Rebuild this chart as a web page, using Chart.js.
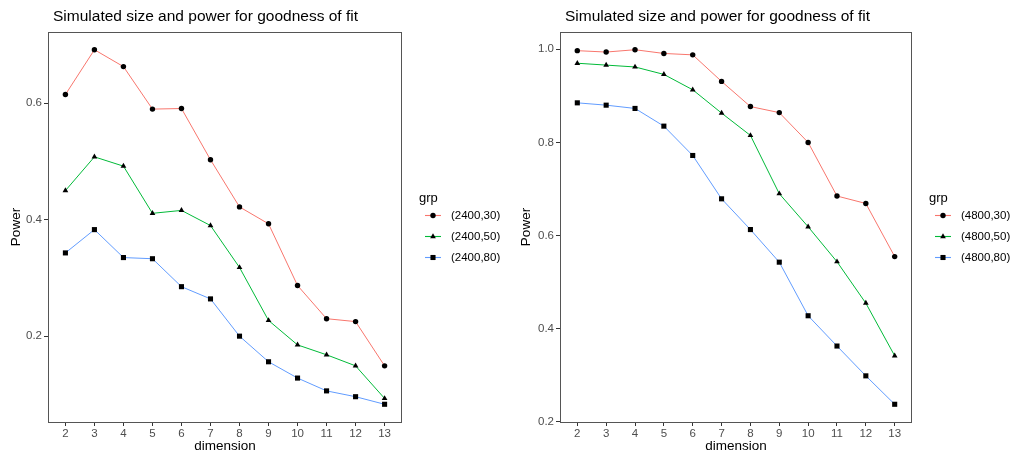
<!DOCTYPE html>
<html>
<head>
<meta charset="utf-8">
<script src="https://cdn.jsdelivr.net/npm/chart.js@4.4.1/dist/chart.umd.min.js"></script>
<style>
  html, body { margin: 0; padding: 0; background: #fff; }
  .row { display: flex; width: 1014px; height: 454px; }
  .panel { position: relative; width: 507px; height: 454px; }
</style>
</head>
<body>
<div class="row">
  <div class="panel"><canvas id="chartLeft" width="507" height="454"></canvas></div>
  <div class="panel"><canvas id="chartRight" width="507" height="454"></canvas></div>
</div>
<script>
// --- Data ---
const dims = [2, 3, 4, 5, 6, 7, 8, 9, 10, 11, 12, 13];

const groupsLeft = ['(2400,30)', '(2400,50)', '(2400,80)'];
const power2400_30 = [0.615, 0.692, 0.663, 0.590, 0.591, 0.503, 0.422, 0.393, 0.287, 0.230, 0.225, 0.149];
const power2400_50 = [0.450, 0.508, 0.492, 0.411, 0.416, 0.390, 0.318, 0.227, 0.185, 0.168, 0.149, 0.093];
const power2400_80 = [0.343, 0.383, 0.335, 0.333, 0.285, 0.264, 0.200, 0.156, 0.128, 0.106, 0.096, 0.083];
const yTicksLeft = [0.2, 0.4, 0.6];

const groupsRight = ['(4800,30)', '(4800,50)', '(4800,80)'];
const power4800_30 = [0.997, 0.994, 0.999, 0.991, 0.988, 0.931, 0.877, 0.864, 0.800, 0.685, 0.669, 0.555];
const power4800_50 = [0.970, 0.966, 0.962, 0.946, 0.913, 0.863, 0.815, 0.690, 0.619, 0.544, 0.455, 0.342];
const power4800_80 = [0.885, 0.880, 0.873, 0.835, 0.772, 0.679, 0.613, 0.543, 0.428, 0.363, 0.299, 0.238];
const yTicksRight = [0.2, 0.4, 0.6, 0.8, 1.0];

const titleText = 'Simulated size and power for goodness of fit';

// --- Styles (ggplot-like) ---
const colors = ['#F8766D', '#00BA38', '#619CFF'];
const shapes = ['circle', 'triangle', 'rect'];
const radii = [2.7, 3.3, 3.6];
const FONT = "'Liberation Sans', Arial, sans-serif";
const tickColor = '#4d4d4d';

// title, panel border and legend drawn relative to chartArea
const decorPlugin = {
    id: 'decor',
    afterDraw(chart) {
        const { ctx, chartArea: a } = chart;
        ctx.save();
        // panel border
        ctx.strokeStyle = '#555';
        ctx.lineWidth = 1;
        ctx.strokeRect(Math.round(a.left) + 0.5, Math.round(a.top) + 0.5,
            Math.round(a.right - a.left) - 1, Math.round(a.bottom - a.top));

        // title
        ctx.fillStyle = '#000';
        ctx.font = `15.5px ${FONT}`;
        ctx.textAlign = 'left';
        ctx.textBaseline = 'middle';
        ctx.fillText(titleText, a.left + 5, 17);

        // legend: title + (line, marker, label) per group
        const lx = a.right + 17;
        ctx.font = `13px ${FONT}`;
        ctx.fillText('grp', lx, 198);
        ctx.font = `11.5px ${FONT}`;
        chart.data.datasets.forEach((ds, i) => {
            const y = 215.5 + i * 21;
            ctx.strokeStyle = ds.borderColor;
            ctx.lineWidth = 1.1;
            ctx.beginPath();
            ctx.moveTo(lx + 6, y);
            ctx.lineTo(lx + 22, y);
            ctx.stroke();

            ctx.fillStyle = '#000';
            ctx.strokeStyle = 'rgba(0,0,0,0)';
            Chart.helpers.drawPoint(ctx, {
                pointStyle: ds.pointStyle, radius: ds.pointRadius,
                rotation: 0, borderWidth: 0
            }, lx + 14, y);

            ctx.fillStyle = '#000';
            ctx.fillText(ds.label, lx + 32, y + 0.5);
        });
        ctx.restore();
    }
};

function makeChart(canvasId, groups, series, yTicks, leftWidth, rightPad, yTitlePad) {
    const ctx = document.getElementById(canvasId).getContext('2d');
    const datasets = series.map((vals, i) => ({
        label: groups[i],
        data: dims.map((d, j) => ({ x: d, y: vals[j] })),
        borderColor: colors[i],
        borderWidth: 1,
        backgroundColor: '#000',
        pointBackgroundColor: '#000',
        pointBorderWidth: 0,
        pointStyle: shapes[i],
        pointRadius: radii[i],
        pointHoverRadius: radii[i],
        tension: 0
    }));

    const allVals = series.flat();
    const lo = Math.min(...allVals), hi = Math.max(...allVals);
    const pad = (hi - lo) * 0.05;

    return new Chart(ctx, {
        type: 'line',
        data: { datasets },
        options: {
            responsive: false,
            animation: false,
            layout: { padding: { top: 32, right: rightPad, bottom: 0, left: 0 } },
            plugins: { legend: { display: false }, tooltip: { enabled: false } },
            scales: {
                x: {
                    type: 'linear',
                    min: dims[0] - 0.6,
                    max: dims[dims.length - 1] + 0.6,
                    afterBuildTicks: s => { s.ticks = dims.map(v => ({ value: v })); },
                    afterFit: s => { s.height = 32; },
                    border: { display: false },
                    grid: { drawOnChartArea: false, drawTicks: true, tickLength: 4, color: '#333' },
                    ticks: { color: tickColor, font: { family: FONT, size: 11.5 }, padding: 1, maxRotation: 0 },
                    title: { display: true, text: 'dimension', color: '#000', font: { family: FONT, size: 13.5 }, padding: 0 }
                },
                y: {
                    type: 'linear',
                    min: lo - pad,
                    max: hi + pad,
                    afterBuildTicks: s => { s.ticks = yTicks.map(v => ({ value: v })); },
                    afterFit: s => { s.width = leftWidth; },
                    border: { display: false },
                    grid: { drawOnChartArea: false, drawTicks: true, tickLength: 4, color: '#333' },
                    ticks: { color: tickColor, font: { family: FONT, size: 11.5 }, padding: 2,
                        callback: v => v.toFixed(1) },
                    title: { display: true, text: 'Power', color: '#000', font: { family: FONT, size: 13.5 },
                        padding: { top: yTitlePad, bottom: 0 } }
                }
            }
        },
        plugins: [decorPlugin]
    });
}

makeChart('chartLeft', groupsLeft, [power2400_30, power2400_50, power2400_80], yTicksLeft, 48, 105, 8);
makeChart('chartRight', groupsRight, [power4800_30, power4800_50, power4800_80], yTicksRight, 53, 102, 11);
</script>
</body>
</html>
